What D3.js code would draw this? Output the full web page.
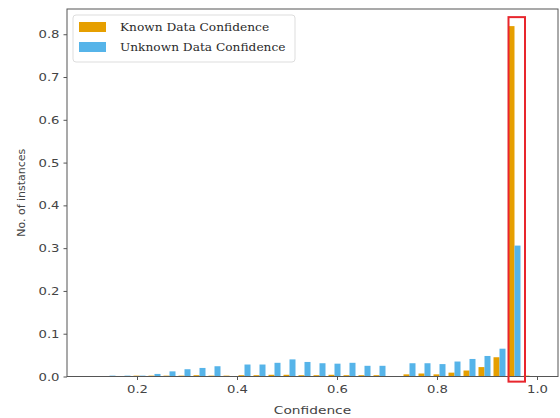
<!DOCTYPE html>
<html>
<head>
<style>
body { margin: 0; background: #fff; }
.axis text { font-family: "DejaVu Sans", sans-serif; font-size: 11px; fill: #444; }
.axis path, .axis line { stroke: #555; }
.label { font-family: "DejaVu Sans", sans-serif; font-size: 11px; fill: #444; }
.legend text { font-family: "DejaVu Serif", serif; font-size: 11.5px; fill: #2a2a2a; }
</style>
<script src="https://cdn.jsdelivr.net/npm/d3@7"></script>
</head>
<body>
<svg width="560" height="418"></svg>
<script>
// 30 bins of width 0.03 from 0.1 to 1.0
var binStart = [0.10, 0.13, 0.16, 0.19, 0.22, 0.25, 0.28, 0.31, 0.34, 0.37,
                0.40, 0.43, 0.46, 0.49, 0.52, 0.55, 0.58, 0.61, 0.64, 0.67,
                0.70, 0.73, 0.76, 0.79, 0.82, 0.85, 0.88, 0.91, 0.94, 0.97];
var binWidth = 0.03;

var known = [0, 0.001, 0.001, 0.002, 0.002, 0.002, 0.002, 0.003, 0.002, 0.002,
             0.003, 0.003, 0.004, 0.004, 0.003, 0.003, 0.004, 0.003, 0.003, 0.003,
             0.001, 0.005, 0.007, 0.005, 0.009, 0.014, 0.022, 0.045, 0.819, 0.002];

var unknown = [0, 0.002, 0.002, 0.002, 0.006, 0.012, 0.017, 0.020, 0.024, 0,
               0.028, 0.028, 0.032, 0.040, 0.034, 0.031, 0.030, 0.032, 0.025, 0.025,
               0, 0.031, 0.031, 0.029, 0.035, 0.041, 0.048, 0.065, 0.306, 0];

var xTicks = [0.2, 0.4, 0.6, 0.8, 1.0];
var yTicks = [0.0, 0.1, 0.2, 0.3, 0.4, 0.5, 0.6, 0.7, 0.8];

var series = [
  {name: "Known Data Confidence", color: "#E69F00", values: known},
  {name: "Unknown Data Confidence", color: "#56B4E9", values: unknown}
];

// highlighted bin (red box)
var highlight = {x0: 0.943, x1: 0.976, y0: -0.012, y1: 0.84};

// the source picture is a bit wider than tall, so horizontal text gets stretched
var stretch = 1.2;

var svg = d3.select("svg"),
    margin = {top: 9, right: 2, bottom: 41.5, left: 67},
    width = +svg.attr("width") - margin.left - margin.right,
    height = +svg.attr("height") - margin.top - margin.bottom;

var x = d3.scaleLinear().domain([0.06, 1.042]).range([0, width]),
    y = d3.scaleLinear().domain([0, 0.859]).range([height, 0]);

var g = svg.append("g")
    .attr("transform", "translate(" + margin.left + "," + margin.top + ")");

function widen(sel, k) {
  sel.each(function() {
    var w = this.getComputedTextLength();
    d3.select(this).attr("textLength", w * k).attr("lengthAdjust", "spacingAndGlyphs");
  });
}

// bars: matplotlib style side-by-side, 80% of bin shared by the two series
var barW = binWidth * 0.8 / series.length;
series.forEach(function(s, si) {
  g.selectAll(".bar" + si)
    .data(s.values)
    .enter().append("rect")
      .attr("class", "bar" + si)
      .attr("fill", s.color)
      .attr("x", function(d, i) { return x(binStart[i] + binWidth * 0.1 + si * barW); })
      .attr("width", function() { return x(barW) - x(0); })
      .attr("y", function(d) { return y(d); })
      .attr("height", function(d) { return height - y(d); });
});

// frame
g.append("rect")
    .attr("width", width)
    .attr("height", height)
    .attr("fill", "none")
    .attr("stroke", "#555")
    .attr("stroke-width", 1);

var xAxis = g.append("g")
    .attr("class", "axis")
    .attr("transform", "translate(0," + height + ")")
    .call(d3.axisBottom(x).tickValues(xTicks).tickFormat(d3.format(".1f")).tickSizeOuter(0).tickSize(3.5).tickPadding(5))
    .call(function(a) { a.select(".domain").remove(); });

var yAxis = g.append("g")
    .attr("class", "axis")
    .call(d3.axisLeft(y).tickValues(yTicks).tickFormat(d3.format(".1f")).tickSizeOuter(0).tickSize(3.5).tickPadding(4))
    .call(function(a) { a.select(".domain").remove(); });

widen(xAxis.selectAll("text"), stretch);
widen(yAxis.selectAll("text"), stretch);

// red highlight box
g.append("rect")
    .attr("x", x(highlight.x0))
    .attr("y", y(highlight.y1))
    .attr("width", x(highlight.x1) - x(highlight.x0))
    .attr("height", y(highlight.y0) - y(highlight.y1))
    .attr("fill", "none")
    .attr("stroke", "#e8262d")
    .attr("stroke-width", 2);

// axis labels
svg.append("text")
    .attr("class", "label")
    .attr("text-anchor", "middle")
    .attr("x", margin.left + width / 2)
    .attr("y", 414)
    .text("Confidence")
    .call(widen, 1.25);

svg.append("text")
    .attr("class", "label")
    .attr("text-anchor", "middle")
    .attr("transform", "translate(25," + (margin.top + height / 2) + ") rotate(-90)")
    .text("No. of instances");

// legend
var lg = svg.append("g")
    .attr("class", "legend")
    .attr("transform", "translate(73,15)");

lg.append("rect")
    .attr("width", 222)
    .attr("height", 47)
    .attr("rx", 3)
    .attr("fill", "#fff")
    .attr("fill-opacity", 0.8)
    .attr("stroke", "#ddd");

series.forEach(function(s, i) {
  lg.append("rect")
    .attr("x", 6)
    .attr("y", 7 + i * 20)
    .attr("width", 27)
    .attr("height", 10)
    .attr("fill", s.color);
  lg.append("text")
    .attr("x", 47)
    .attr("y", 12 + i * 20)
    .attr("dy", "0.35em")
    .text(s.name)
    .call(widen, 1.06);
});
</script>
</body>
</html>
